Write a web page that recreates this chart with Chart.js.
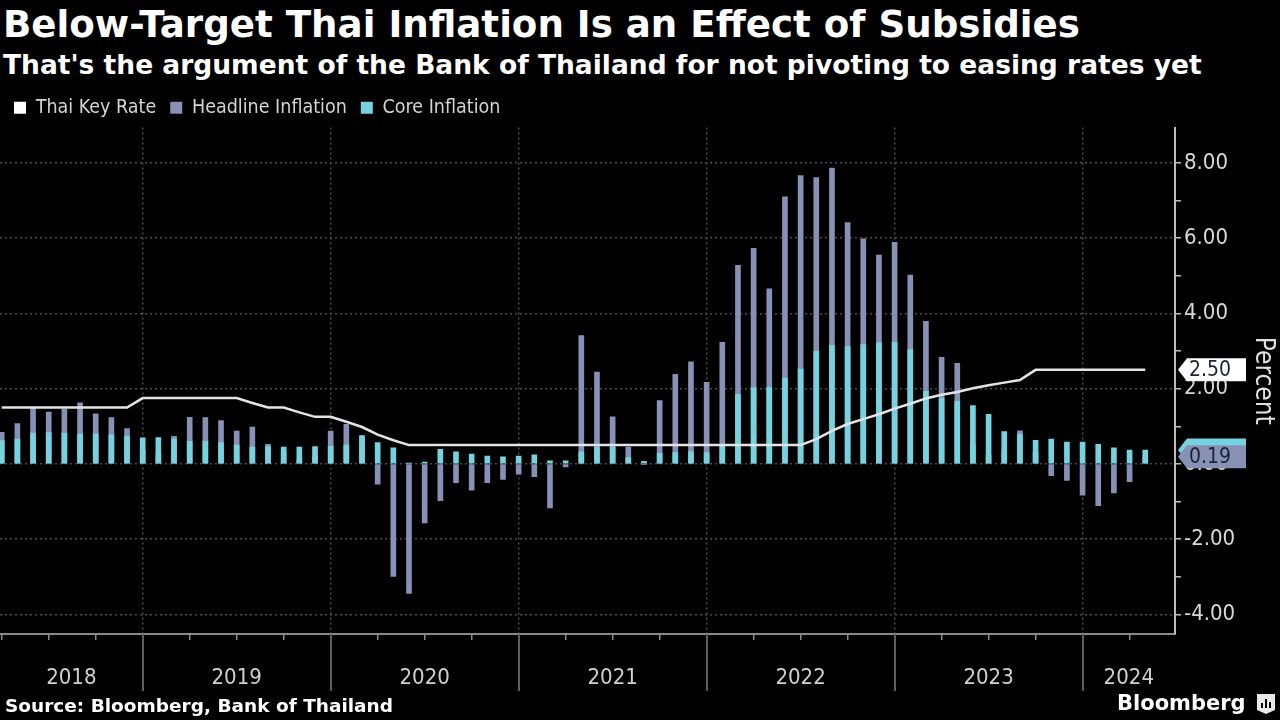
<!DOCTYPE html>
<html>
<head>
<meta charset="utf-8">
<script src="https://cdn.jsdelivr.net/npm/chart.js@4.4.0/dist/chart.umd.min.js"></script>
<style>
  html, body { margin: 0; padding: 0; background: #000; }
  body { width: 1280px; height: 720px; position: relative; overflow: hidden; color: #fff; font-family: 'DejaVu Sans', sans-serif; }
  #title { position: absolute; left: 3px; top: 6px; font-weight: bold; font-size: 37.2px; line-height: 1; white-space: nowrap; }
  #subtitle { position: absolute; left: 3px; top: 52px; font-weight: bold; font-size: 26.5px; line-height: 1; white-space: nowrap; }
  #wrap { position: absolute; left: 0; top: 84px; width: 1280px; height: 636px; }
  #source { position: absolute; left: 5px; top: 697px; font-weight: bold; font-size: 18.5px; line-height: 1; white-space: nowrap; }
  #brand { position: absolute; left: 1117px; top: 693px; font-weight: bold; font-size: 21px; line-height: 1; white-space: nowrap; }
  #logo { position: absolute; left: 1256px; top: 693px; }
</style>
</head>
<body>
<div id="title">Below-Target Thai Inflation Is an Effect of Subsidies</div>
<div id="subtitle">That's the argument of the Bank of Thailand for not pivoting to easing rates yet</div>
<div id="wrap"><canvas id="chart" width="1280" height="636"></canvas></div>
<div id="source">Source: Bloomberg, Bank of Thailand</div>
<div id="brand">Bloomberg</div>
<svg id="logo" width="20" height="22" viewBox="0 0 20 22">
  <path d="M1 1 H19 V17 L10 21 L1 17 Z" fill="#e8e8e8"/>
  <rect x="5" y="10" width="2" height="5" fill="#000"/>
  <rect x="9" y="6" width="2" height="9" fill="#000"/>
  <rect x="13" y="9" width="2" height="6" fill="#000"/>
</svg>
<script>
// monthly, Mar 2018 - Apr 2024
const months = [
  'Mar 2018','Apr 2018','May 2018','Jun 2018','Jul 2018','Aug 2018','Sep 2018','Oct 2018','Nov 2018','Dec 2018',
  'Jan 2019','Feb 2019','Mar 2019','Apr 2019','May 2019','Jun 2019','Jul 2019','Aug 2019','Sep 2019','Oct 2019','Nov 2019','Dec 2019',
  'Jan 2020','Feb 2020','Mar 2020','Apr 2020','May 2020','Jun 2020','Jul 2020','Aug 2020','Sep 2020','Oct 2020','Nov 2020','Dec 2020',
  'Jan 2021','Feb 2021','Mar 2021','Apr 2021','May 2021','Jun 2021','Jul 2021','Aug 2021','Sep 2021','Oct 2021','Nov 2021','Dec 2021',
  'Jan 2022','Feb 2022','Mar 2022','Apr 2022','May 2022','Jun 2022','Jul 2022','Aug 2022','Sep 2022','Oct 2022','Nov 2022','Dec 2022',
  'Jan 2023','Feb 2023','Mar 2023','Apr 2023','May 2023','Jun 2023','Jul 2023','Aug 2023','Sep 2023','Oct 2023','Nov 2023','Dec 2023',
  'Jan 2024','Feb 2024','Mar 2024','Apr 2024'
];

const keyRate = [
  1.50, 1.50, 1.50, 1.50, 1.50, 1.50, 1.50, 1.50, 1.50, 1.75,
  1.75, 1.75, 1.75, 1.75, 1.75, 1.75, 1.62, 1.50, 1.50, 1.37, 1.25, 1.25,
  1.12, 0.98, 0.78, 0.63, 0.50, 0.50, 0.50, 0.50, 0.50, 0.50, 0.50, 0.50,
  0.50, 0.50, 0.50, 0.50, 0.50, 0.50, 0.50, 0.50, 0.50, 0.50, 0.50, 0.50,
  0.50, 0.50, 0.50, 0.50, 0.50, 0.50, 0.66, 0.88, 1.06, 1.19, 1.32, 1.47,
  1.60, 1.74, 1.84, 1.91, 2.01, 2.09, 2.16, 2.23, 2.50, 2.50, 2.50, 2.50,
  2.50, 2.50, 2.50, 2.50
];

const headline = [
  0.84, 1.07, 1.49, 1.38, 1.46, 1.62, 1.33, 1.23, 0.94, 0.36,
  0.27, 0.73, 1.24, 1.23, 1.15, 0.87, 0.98, 0.52, 0.32, 0.11, 0.21, 0.87,
  1.05, 0.74, -0.54, -2.99, -3.44, -1.57, -0.98, -0.50, -0.70, -0.50, -0.41, -0.27,
  -0.34, -1.17, -0.08, 3.41, 2.44, 1.25, 0.45, -0.02, 1.68, 2.38, 2.71, 2.17,
  3.23, 5.28, 5.73, 4.65, 7.10, 7.66, 7.61, 7.86, 6.41, 5.98, 5.55, 5.89,
  5.02, 3.79, 2.83, 2.67, 0.53, 0.23, 0.38, 0.88, 0.30, -0.31, -0.44, -0.83,
  -1.11, -0.77, -0.47, 0.19
];

const core = [
  0.62, 0.66, 0.82, 0.83, 0.82, 0.79, 0.80, 0.77, 0.74, 0.69,
  0.70, 0.66, 0.60, 0.60, 0.57, 0.50, 0.45, 0.46, 0.45, 0.45, 0.46, 0.47,
  0.50, 0.75, 0.57, 0.43, 0.01, 0.05, 0.39, 0.32, 0.26, 0.21, 0.19, 0.21,
  0.24, 0.08, 0.08, 0.32, 0.45, 0.45, 0.17, 0.07, 0.28, 0.30, 0.33, 0.30,
  0.52, 1.85, 2.03, 2.03, 2.28, 2.52, 2.99, 3.15, 3.12, 3.17, 3.22, 3.23,
  3.04, 1.93, 1.75, 1.66, 1.55, 1.32, 0.86, 0.79, 0.63, 0.66, 0.58, 0.58,
  0.52, 0.43, 0.37, 0.37
];

const years = ['2018', '2019', '2020', '2021', '2022', '2023', '2024'];
const yTicks = [-4, -3, -2, -1, 0, 1, 2, 3, 4, 5, 6, 7, 8];

const xMin = -0.11, xMax = 74.9;
const yearEnds = months.map((m, i) => m.startsWith('Dec') ? i : null).filter(i => i !== null);
const bounds = [xMin, ...yearEnds, xMax];
const yearCenters = years.map((y, i) => (bounds[i] + bounds[i + 1]) / 2);
const quarters = months.map((m, i) => i).filter(i => i % 3 === 0);

const FONT = "'DejaVu Sans Condensed', 'Liberation Sans Narrow', 'DejaVu Sans', sans-serif";
const C_RATE = '#e4e4e4', C_HEAD = '#8791b6', C_CORE = '#74d3de';

const extras = {
  id: 'extras',
  afterDatasetsDraw(chart) {
    const ctx = chart.ctx, ys = chart.scales.y, area = chart.chartArea;
    const tag = (v, fill, txt) => {
      const y = ys.getPixelForValue(v), x0 = area.right + 3, h = 23, w = 68, tip = 9;
      ctx.save();
      ctx.beginPath();
      ctx.moveTo(x0, y);
      ctx.lineTo(x0 + tip, y - h / 2);
      ctx.lineTo(x0 + w, y - h / 2);
      ctx.lineTo(x0 + w, y + h / 2);
      ctx.lineTo(x0 + tip, y + h / 2);
      ctx.closePath();
      ctx.fillStyle = fill;
      ctx.fill();
      if (txt) {
        ctx.fillStyle = '#1b2233';
        ctx.font = '21px ' + FONT;
        ctx.textBaseline = 'middle';
        ctx.fillText(txt, x0 + tip + 2, y + 1);
      }
      ctx.restore();
    };
    const last = a => a[a.length - 1];
    tag(last(core), C_CORE, '');   // hidden behind the headline tag
    tag(last(headline), C_HEAD, last(headline).toFixed(2));
    tag(last(keyRate), '#ffffff', last(keyRate).toFixed(2));
  },
  afterDraw(chart) {
    // year separators below the axis
    const ctx = chart.ctx, xs = chart.scales.x, area = chart.chartArea;
    ctx.save();
    ctx.strokeStyle = '#5e5e5e';
    ctx.lineWidth = 2;
    yearEnds.forEach(v => {
      const x = Math.round(xs.getPixelForValue(v));
      ctx.beginPath();
      ctx.moveTo(x, area.bottom);
      ctx.lineTo(x, area.bottom + 57);
      ctx.stroke();
    });
    ctx.restore();
  }
};

new Chart(document.getElementById('chart'), {
  data: {
    labels: months.map((m, i) => i),
    datasets: [
      { type: 'line', label: 'Thai Key Rate', data: keyRate, borderColor: C_RATE, backgroundColor: '#ffffff',
        borderWidth: 2.5, pointRadius: 0, tension: 0, order: 0 },
      { type: 'bar', label: 'Headline Inflation', data: headline, backgroundColor: C_HEAD,
        barThickness: 5, grouped: false, order: 2 },
      { type: 'bar', label: 'Core Inflation', data: core, backgroundColor: C_CORE,
        barThickness: 5, grouped: false, order: 1 }
    ]
  },
  options: {
    responsive: false,
    animation: false,
    devicePixelRatio: 1,
    layout: { padding: { left: 0, right: 0, top: 0, bottom: 18 } },
    plugins: {
      tooltip: { enabled: false },
      legend: {
        position: 'top',
        align: 'start',
        labels: {
          color: '#d4d4d4',
          font: { size: 19.5, family: FONT },
          boxWidth: 12,
          boxHeight: 12,
          padding: 14,
          sort: (a, b) => a.datasetIndex - b.datasetIndex,
          generateLabels: chart => chart.data.datasets.map((d, i) => ({
            text: d.label, fillStyle: d.type === 'line' ? '#ffffff' : d.backgroundColor,
            strokeStyle: 'transparent', lineWidth: 0, fontColor: '#d4d4d4', datasetIndex: i
          }))
        }
      }
    },
    scales: {
      x: {
        type: 'linear', position: 'bottom', min: xMin, max: xMax, offset: false,
        afterBuildTicks: s => { s.ticks = quarters.map(v => ({ value: v })); },
        afterFit: s => { s.height = 8; },
        ticks: { display: false },
        grid: {
          offset: false,
          color: c => c.tick && yearEnds.includes(c.tick.value) ? '#4c4c4c' : 'transparent',
          lineWidth: 1.5,
          tickColor: '#8a8a8a', tickLength: 6, tickWidth: 1.5
        },
        border: { display: true, color: '#8a8a8a', width: 2, dash: [2, 3] }
      },
      x2: {
        type: 'linear', position: 'bottom', min: xMin, max: xMax, offset: false,
        afterBuildTicks: s => { s.ticks = yearCenters.map(v => ({ value: v })); },
        afterFit: s => { s.height = 60; },
        ticks: {
          color: '#d0d0d0', font: { size: 22, family: FONT }, padding: 23,
          autoSkip: false, maxRotation: 0,
          callback: (v, i) => years[i]
        },
        grid: { display: false, drawTicks: false, offset: false },
        border: { display: false }
      },
      y: {
        position: 'right', min: -4.52, max: 8.94,
        afterBuildTicks: s => { s.ticks = yTicks.map(v => ({ value: v })); },
        afterFit: s => { s.width = 105; },
        ticks: {
          color: '#d8d8d8', font: { size: 22, family: FONT }, padding: 3,
          callback: v => v % 2 === 0 ? v.toFixed(2) : ''
        },
        grid: {
          color: c => c.tick && c.tick.value % 2 === 0 ? '#4c4c4c' : 'transparent',
          lineWidth: 1.5,
          tickColor: '#bcbcbc', tickLength: 6, tickWidth: 1.5
        },
        border: { display: true, color: '#bcbcbc', width: 2, dash: [2, 3] },
        title: { display: true, text: 'Percent', color: '#e0e0e0', font: { size: 26, family: FONT }, padding: 2 }
      }
    }
  },
  plugins: [extras]
});
</script>
</body>
</html>
